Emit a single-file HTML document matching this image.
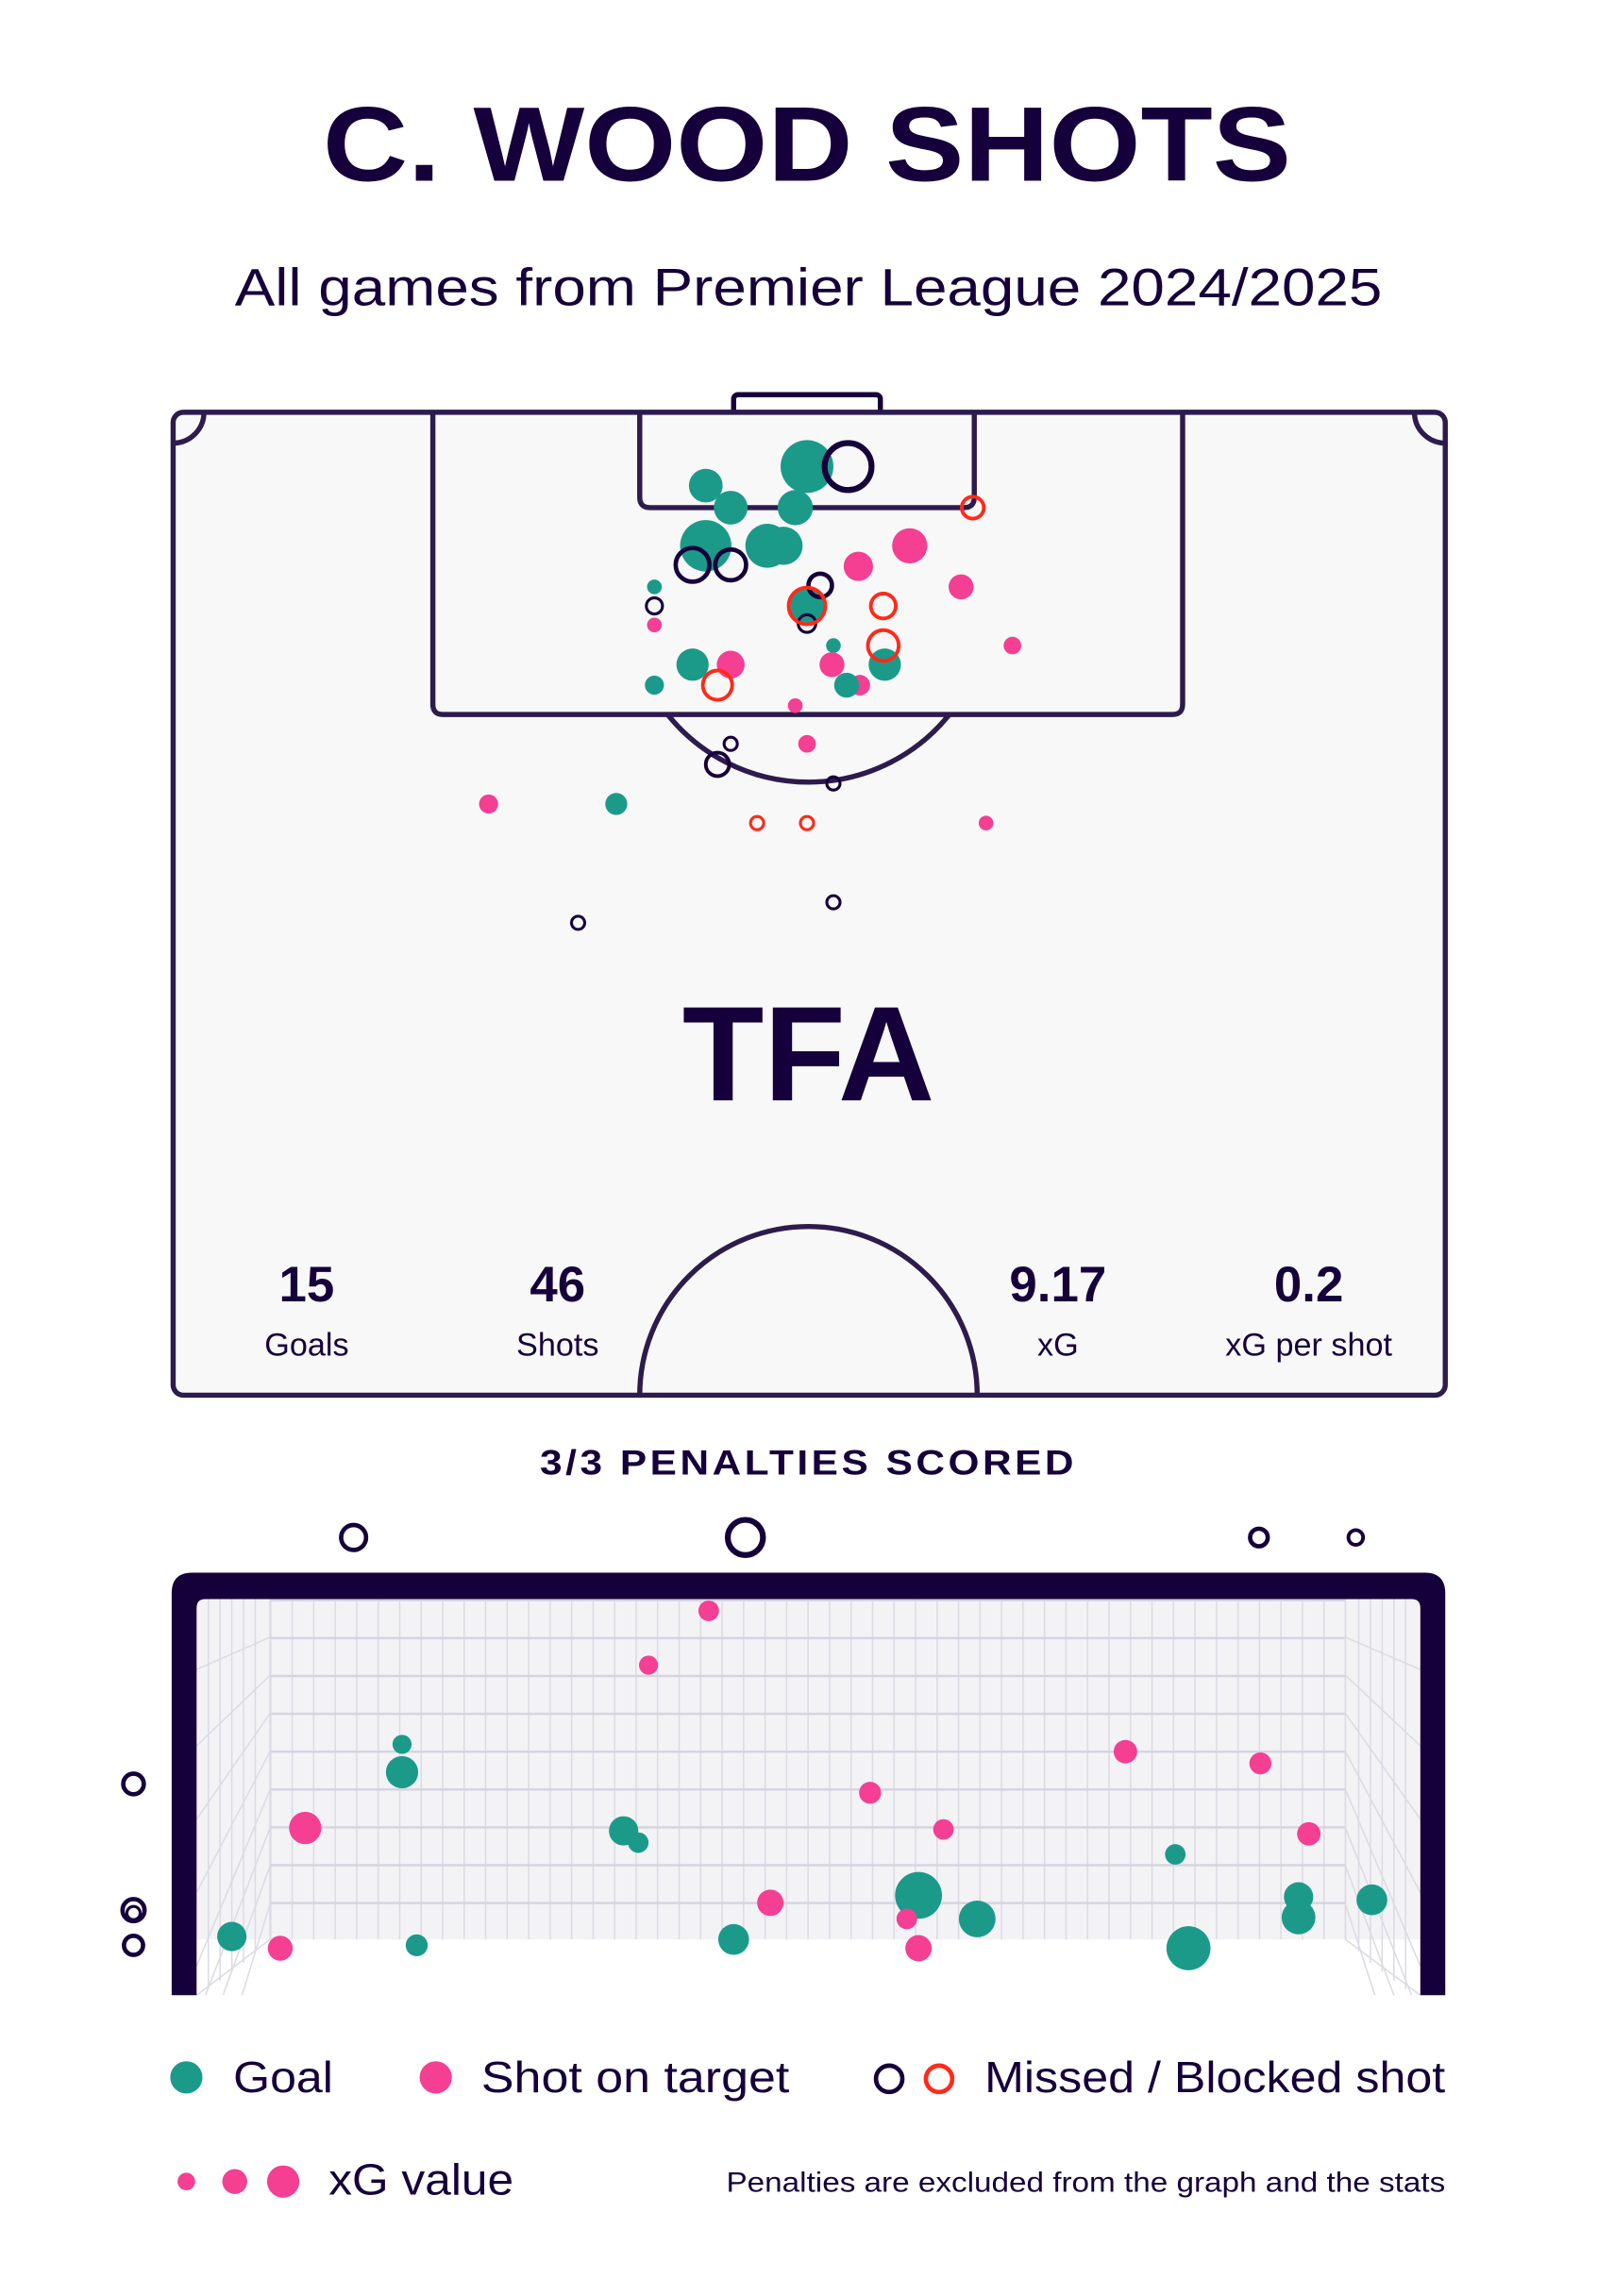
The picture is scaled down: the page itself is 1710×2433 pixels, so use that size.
<!DOCTYPE html>
<html><head><meta charset="utf-8"><style>
html,body{margin:0;padding:0;background:#fff;}
svg{display:block;}
text{font-family:"Liberation Sans",sans-serif;fill:#16003b;}
</style></head><body>
<svg width="1710" height="2433" viewBox="0 0 1100 1565" xmlns="http://www.w3.org/2000/svg">
<defs>
<pattern id="gv" x="184" y="0" width="14.65" height="2000" patternUnits="userSpaceOnUse"><line x1="0.5" y1="0" x2="0.5" y2="2000" stroke="#dcdbe3" stroke-width="1"/></pattern>
<pattern id="gh" x="0" y="1090" width="2000" height="25.8" patternUnits="userSpaceOnUse"><line x1="0" y1="0.8" x2="2000" y2="0.8" stroke="#d6d4de" stroke-width="1.6"/></pattern>
</defs>
<text x="550" y="123" text-anchor="middle" font-size="72" font-weight="900" textLength="660" lengthAdjust="spacingAndGlyphs">C. WOOD SHOTS</text>
<text x="551" y="208" text-anchor="middle" font-size="36" textLength="782" lengthAdjust="spacingAndGlyphs">All games from Premier League 2024/2025</text>

<!-- pitch -->
<g stroke="#2d1b4e" stroke-width="3.5" fill="none">
<rect x="500" y="269" width="100" height="14" rx="3" fill="#fff" stroke="#16003b"/>
<rect x="118" y="281" width="867" height="670" rx="7" fill="#f8f8f8"/>
<path d="M118 302 A21 21 0 0 0 139 281"/>
<path d="M985 302 A21 21 0 0 1 964 281"/>
<path d="M295 281 V480 Q295 487 302 487 H799 Q806 487 806 480 V281"/>
<path d="M436 281 V339 Q436 346 443 346 H657 Q664 346 664 339 V281"/>
<path d="M455 487 A123 123 0 0 0 647 487"/>
<path d="M436 951 A115 115 0 0 1 666 951"/>
</g>
<text x="551" y="750" text-anchor="middle" font-size="92" font-weight="900" textLength="172" lengthAdjust="spacingAndGlyphs">TFA</text>
<g text-anchor="middle">
<text x="209" y="887" font-size="34" font-weight="bold">15</text><text x="209" y="924" font-size="22">Goals</text>
<text x="380" y="887" font-size="34" font-weight="bold">46</text><text x="380" y="924" font-size="22">Shots</text>
<text x="721" y="887" font-size="34" font-weight="bold">9.17</text><text x="721" y="924" font-size="22">xG</text>
<text x="892" y="887" font-size="34" font-weight="bold">0.2</text><text x="892" y="924" font-size="22">xG per shot</text>
</g>

<!-- pitch shots -->
<g fill="#1b9a8a">
<circle cx="550" cy="318" r="18"/><circle cx="481" cy="331" r="11.5"/><circle cx="498" cy="346" r="11.5"/><circle cx="542" cy="346" r="12"/>
<circle cx="481" cy="372" r="17.5"/><circle cx="523" cy="372" r="15"/><circle cx="534" cy="372" r="13"/>
<circle cx="446" cy="400" r="5"/><circle cx="550" cy="413" r="12"/><circle cx="568" cy="440" r="5"/>
<circle cx="472" cy="453" r="11"/><circle cx="603" cy="453" r="11"/><circle cx="446" cy="467" r="6.5"/><circle cx="420" cy="548" r="7.5"/>
</g>
<g fill="#f43f93">
<circle cx="620" cy="372" r="12"/><circle cx="585" cy="386" r="10"/><circle cx="655" cy="400" r="8.5"/><circle cx="446" cy="426" r="5"/>
<circle cx="690" cy="440" r="6"/><circle cx="498" cy="453" r="9.5"/><circle cx="567" cy="453" r="8.5"/><circle cx="586" cy="467" r="7"/>
<circle cx="542" cy="481" r="5"/><circle cx="550" cy="507" r="6"/><circle cx="333" cy="548" r="6.5"/><circle cx="672" cy="561" r="5"/>
</g>
<circle cx="577" cy="467" r="8.5" fill="#1b9a8a"/>
<g fill="none" stroke="#16003b" stroke-width="3">
<circle cx="578" cy="318" r="16" stroke-width="4"/><circle cx="472" cy="385" r="11.5"/><circle cx="498" cy="385" r="10.5"/>
<circle cx="446" cy="413" r="5.5" stroke-width="2"/><circle cx="559" cy="399" r="8"/><circle cx="550" cy="425" r="6" stroke-width="2"/>
<circle cx="498" cy="507" r="4.5" stroke-width="2"/><circle cx="489" cy="521" r="8" stroke-width="2.5"/><circle cx="568" cy="534" r="4.5" stroke-width="2"/>
<circle cx="568" cy="615" r="4.5" stroke-width="2"/><circle cx="394" cy="629" r="4.5" stroke-width="2"/>
</g>
<g fill="none" stroke="#ff2a1a" stroke-width="2.5">
<circle cx="663" cy="346" r="7.5"/><circle cx="550" cy="413" r="12.5"/><circle cx="602" cy="413" r="8.5"/><circle cx="602" cy="440" r="10.5"/>
<circle cx="489" cy="467" r="10"/><circle cx="516" cy="561" r="4.5" stroke-width="2"/><circle cx="550" cy="561" r="4.5" stroke-width="2"/>
</g>

<text x="551" y="1005" text-anchor="middle" font-size="24" font-weight="bold" letter-spacing="2" textLength="366" lengthAdjust="spacingAndGlyphs">3/3 PENALTIES SCORED</text>

<!-- goal -->
<rect x="134" y="1090" width="834" height="270" fill="#f3f3f6"/>
<rect x="184" y="1090" width="733" height="232" fill="url(#gv)"/>
<rect x="184" y="1090" width="733" height="232" fill="url(#gh)"/>
<rect x="134" y="1322" width="834" height="38" fill="#fff"/>
<g stroke="#dcdbe3" stroke-width="1">
<line x1="184" y1="1090" x2="184" y2="1322"/><line x1="917" y1="1090" x2="917" y2="1322"/>
<line x1="134" y1="1360" x2="184" y2="1322"/><line x1="968" y1="1360" x2="917" y2="1322"/>
<path d="M134 1138 L184 1116 M134 1190 L184 1142 M134 1240 L184 1168 M134 1290 L184 1194 M134 1340 L184 1220 M140 1360 L184 1246 M152 1360 L184 1272 M165 1360 L184 1298"/>
<path d="M968 1138 L917 1116 M968 1190 L917 1142 M968 1240 L917 1168 M968 1290 L917 1194 M968 1340 L917 1220 M962 1360 L917 1246 M950 1360 L917 1272 M937 1360 L917 1298"/>
<path d="M142 1090 V1356 M150 1090 V1350 M158 1090 V1344 M166 1090 V1338 M174 1090 V1330 M934 1090 V1338 M942 1090 V1344 M950 1090 V1350 M958 1090 V1356 M926 1090 V1330"/>
</g>
<path d="M117 1360 V1086 Q117 1072 131 1072 H971 Q985 1072 985 1086 V1360 H968 V1096 Q968 1090 962 1090 H140 Q134 1090 134 1096 V1360 Z" fill="#16003b"/>

<g fill="#f43f93">
<circle cx="483" cy="1098" r="7"/><circle cx="442" cy="1135" r="6.5"/><circle cx="767" cy="1194" r="8"/><circle cx="859" cy="1202" r="7.5"/>
<circle cx="593" cy="1222" r="7.5"/><circle cx="208" cy="1246" r="11"/><circle cx="643" cy="1247" r="7"/><circle cx="892" cy="1250" r="8"/>
<circle cx="525" cy="1297" r="9"/><circle cx="191" cy="1328" r="8.5"/>
</g>
<g fill="#1b9a8a">
<circle cx="274" cy="1189" r="6.5"/><circle cx="274" cy="1208" r="11"/><circle cx="425" cy="1248" r="10"/><circle cx="435" cy="1256" r="7"/>
<circle cx="801" cy="1264" r="7"/><circle cx="626" cy="1292" r="16"/><circle cx="885" cy="1293" r="10"/><circle cx="935" cy="1295" r="10.5"/>
<circle cx="666" cy="1308" r="12.5"/><circle cx="885" cy="1307" r="11.5"/><circle cx="158" cy="1320" r="10"/><circle cx="500" cy="1322" r="10.5"/>
<circle cx="810" cy="1328" r="15"/><circle cx="284" cy="1326" r="7.5"/>
</g>
<g fill="#f43f93"><circle cx="618" cy="1308" r="7"/><circle cx="626" cy="1328" r="9"/></g>
<g fill="none" stroke="#16003b" stroke-width="3">
<circle cx="241" cy="1048" r="8.5"/><circle cx="508" cy="1048" r="12" stroke-width="4"/><circle cx="858" cy="1048" r="6"/><circle cx="924" cy="1048" r="5" stroke-width="2.5"/>
<circle cx="91" cy="1216" r="7"/><circle cx="91" cy="1302" r="7.5"/><circle cx="91" cy="1304" r="4.5" stroke-width="2"/><circle cx="91" cy="1326" r="6.5"/>
</g>

<!-- legend -->
<circle cx="127" cy="1416" r="11" fill="#1b9a8a"/>
<text x="159" y="1426" font-size="30" textLength="68" lengthAdjust="spacingAndGlyphs">Goal</text>
<circle cx="297" cy="1416" r="11" fill="#f43f93"/>
<text x="328" y="1426" font-size="30" textLength="210" lengthAdjust="spacingAndGlyphs">Shot on target</text>
<circle cx="606" cy="1417" r="9" fill="none" stroke="#16003b" stroke-width="3"/>
<circle cx="640" cy="1417" r="9" fill="none" stroke="#ff2a1a" stroke-width="3"/>
<text x="671" y="1426" font-size="30" textLength="314" lengthAdjust="spacingAndGlyphs">Missed / Blocked shot</text>
<circle cx="127" cy="1487" r="6" fill="#f43f93"/><circle cx="160" cy="1487" r="8.5" fill="#f43f93"/><circle cx="193" cy="1487" r="11" fill="#f43f93"/>
<text x="224" y="1496" font-size="30" textLength="126" lengthAdjust="spacingAndGlyphs">xG value</text>
<text x="985" y="1494" font-size="19" text-anchor="end" textLength="490" lengthAdjust="spacingAndGlyphs">Penalties are excluded from the graph and the stats</text>
</svg>
</body></html>
